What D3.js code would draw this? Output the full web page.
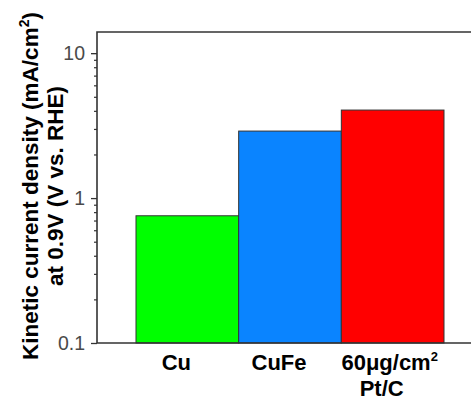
<!DOCTYPE html>
<html>
<head>
<meta charset="utf-8">
<script src="https://cdn.jsdelivr.net/npm/d3@7"></script>
<style>
  html, body { margin: 0; padding: 0; background: #fff; }
  svg { display: block; }
</style>
</head>
<body>
<script>
// Kinetic current density at 0.9 V vs. RHE, log scale
const categories = ["Cu", "CuFe", "Pt/C"];
const categoryLabels = [["Cu"], ["CuFe"], ["60μg/cm", "Pt/C"]];
const currentDensity = [0.755, 2.9, 4.05];
const barColors = ["#00ff00", "#0a84ff", "#ff0000"];
const majorTicks = [0.1, 1, 10];
const minorTicks = [0.2, 0.3, 0.4, 0.5, 0.6, 0.7, 0.8, 0.9, 2, 3, 4, 5, 6, 7, 8, 9];

const W = 471, H = 401;
const plot = { left: 97, top: 32, right: 471, bottom: 343 };
const FONT = "'Liberation Sans', Arial, sans-serif";

const svg = d3.select("body").append("svg")
  .attr("width", W).attr("height", H);

const x = d3.scaleBand().domain(categories).range([136, 444]).padding(0);
const y = d3.scaleLog().domain([0.1, 14]).range([plot.bottom, plot.top]);

// bars
svg.append("g").selectAll("rect")
  .data(categories)
  .join("rect")
  .attr("x", d => x(d))
  .attr("width", x.bandwidth())
  .attr("y", (d, i) => y(currentDensity[i]))
  .attr("height", (d, i) => y(0.1) - y(currentDensity[i]))
  .attr("fill", (d, i) => barColors[i])
  .attr("stroke", "#333")
  .attr("stroke-width", 1);

// frame: left, top, bottom
const frame = svg.append("g").attr("stroke", "#333").attr("stroke-width", 1.6).attr("fill", "none");
frame.append("path")
  .attr("d", `M${plot.right},${plot.top}H${plot.left}V${plot.bottom}H${plot.right}`);

// y axis major ticks
const yAxis = svg.append("g")
  .attr("transform", `translate(${plot.left},0)`)
  .call(d3.axisLeft(y).tickValues(majorTicks).tickSize(6).tickPadding(6)
    .tickFormat(d3.format("~g")));
yAxis.select(".domain").remove();
yAxis.selectAll(".tick line").attr("stroke", "#333").attr("stroke-width", 1.3);
yAxis.selectAll(".tick text")
  .attr("fill", "#4a4a4a")
  .attr("font-family", FONT)
  .attr("font-size", 19.5);

// y axis minor ticks
const yMinor = svg.append("g")
  .attr("transform", `translate(${plot.left},0)`)
  .call(d3.axisLeft(y).tickValues(minorTicks).tickSize(3).tickFormat(""));
yMinor.select(".domain").remove();
yMinor.selectAll(".tick line").attr("stroke", "#333").attr("stroke-width", 1.2);

// category labels
const labelG = svg.append("g")
  .attr("font-family", FONT)
  .attr("font-weight", "bold")
  .attr("font-size", 22)
  .attr("fill", "#000")
  .attr("text-anchor", "middle");
categories.forEach((c, i) => {
  const cx = x(c) + x.bandwidth() / 2 - 11;
  categoryLabels[i].forEach((line, j) => {
    const t = labelG.append("text")
      .attr("x", j === 0 && categoryLabels[i].length > 1 ? cx + 8 : cx)
      .attr("y", 370 + j * 26);
    t.append("tspan").text(line);
    if (line.endsWith("cm")) {
      t.append("tspan").attr("dy", -9).attr("font-size", 13).text("2");
    }
  });
});

// y axis title
const titleG = svg.append("g")
  .attr("font-family", FONT)
  .attr("font-weight", "bold")
  .attr("font-size", 22.5)
  .attr("fill", "#000")
  .attr("text-anchor", "middle");
const cy = 186;
const t1 = titleG.append("text")
  .attr("transform", `translate(37.5,${cy}) rotate(-90)`);
t1.append("tspan").text("Kinetic current density (mA/cm");
t1.append("tspan").attr("dy", -9).attr("font-size", 14).text("2");
t1.append("tspan").attr("dy", 9).text(")");
titleG.append("text")
  .attr("transform", `translate(62.5,${cy}) rotate(-90)`)
  .text("at 0.9V (V vs. RHE)");
</script>
</body>
</html>
